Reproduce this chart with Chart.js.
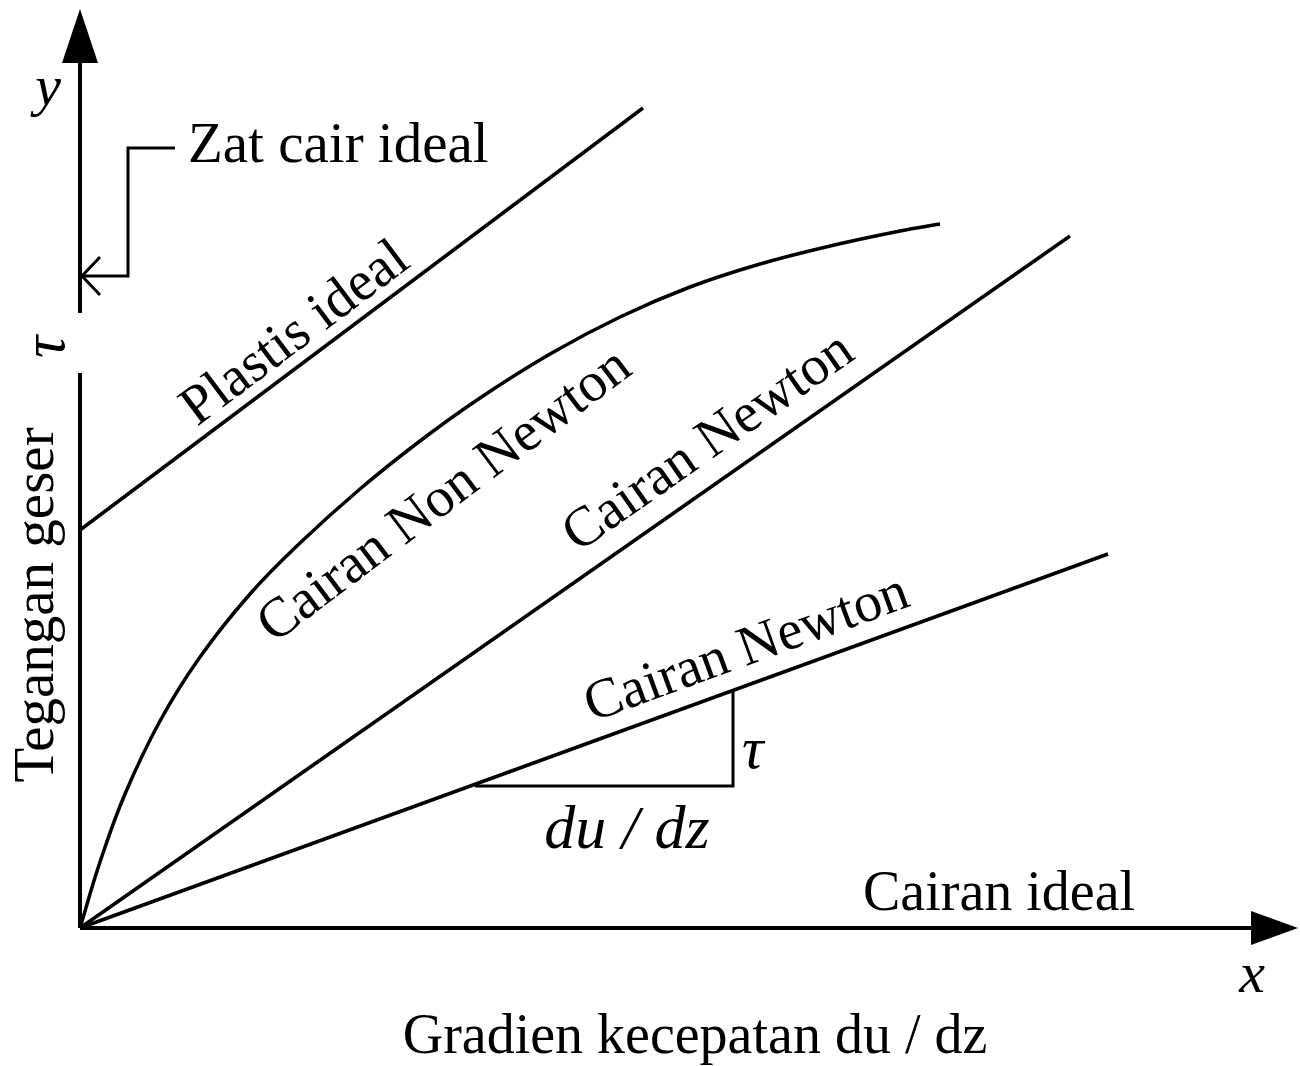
<!DOCTYPE html>
<html>
<head>
<meta charset="utf-8">
<script src="https://cdn.jsdelivr.net/npm/chart.js@4.4.1/dist/chart.umd.min.js"></script>
<style>
  html, body { margin: 0; padding: 0; background: #fff; }
  canvas { display: block; }
</style>
</head>
<body>
<canvas id="chart" width="1300" height="1066"></canvas>
<script>
// diagram units: x = gradien kecepatan du/dz, y = tegangan geser tau (origin at 0,0)
const nonNewtonX = [0, 20, 45, 80, 120, 170, 220, 280, 340, 400, 470, 540, 610, 680, 750, 820, 860];
const nonNewtonY = [0, 66, 134, 207, 271, 334, 385, 439, 487, 530, 574, 611, 641, 664, 682, 697, 704];
const plastisX = [0, 563];
const plastisY = [398, 820];
const newtonSteepX = [0, 990];
const newtonSteepY = [0, 692];
const newtonFlatX = [0, 1028];
const newtonFlatY = [0, 374];
const slopeX = [395, 653, 653];
const slopeY = [142, 142, 238];
const idealPointerX = [95, 48, 48, 2];
const idealPointerY = [780, 780, 652, 652];
const xAxisEnd = 1172;
const yAxisEnd = 866;
const yAxisGap = [555, 615];

const FONT = "'Liberation Serif', 'Times New Roman', serif";

// text labels: [text, x, y, angle (deg, ccw), size, italic, align]
const labels = [
  ['y', -32, 823, 0, 58, true, 'center'],
  ['x', 1172, -64, 0, 58, true, 'center'],
  ['\u03c4', -16, 581, 90, 62, true, 'center'],
  ['Tegangan geser', -27, 323, 90, 57, false, 'center'],
  ['Zat cair ideal', 108, 766, 0, 57, false, 'left'],
  ['Plastis ideal', 117, 501, 36.9, 56, false, 'left'],
  ['Cairan Non Newton', 194, 284, 37, 56, false, 'left'],
  ['Cairan Newton', 498, 375, 35, 56, false, 'left'],
  ['Cairan Newton', 512, 206, 20, 56, false, 'left'],
  ['\u03c4', 662, 160, 0, 60, true, 'left'],
  ['du / dz', 547, 80, 0, 62, true, 'center'],
  ['Cairan ideal', 783, 18, 0, 56, false, 'left'],
  ['Gradien kecepatan du / dz', 615, -125, 0, 56, false, 'center']
];

const pts = (xs, ys) => xs.map((v, i) => ({ x: v, y: ys[i] }));

function lineSet(data, width, extra) {
  return Object.assign({
    data,
    borderColor: '#000',
    borderWidth: width,
    pointRadius: 0,
    fill: false,
    tension: 0,
    spanGaps: false
  }, extra || {});
}

const diagram = {
  id: 'diagram',
  afterDatasetsDraw(chart) {
    const { ctx, scales: { x, y } } = chart;
    ctx.save();
    ctx.fillStyle = '#000';
    ctx.strokeStyle = '#000';

    // filled arrowheads on both axes
    const ax = x.getPixelForValue(xAxisEnd), ay = y.getPixelForValue(0);
    ctx.beginPath();
    ctx.moveTo(ax - 1, ay - 17);
    ctx.lineTo(ax + 46, ay);
    ctx.lineTo(ax - 1, ay + 17);
    ctx.closePath();
    ctx.fill();

    const bx = x.getPixelForValue(0), by = y.getPixelForValue(yAxisEnd);
    ctx.beginPath();
    ctx.moveTo(bx - 18, by + 1);
    ctx.lineTo(bx, by - 53);
    ctx.lineTo(bx + 18, by + 1);
    ctx.closePath();
    ctx.fill();

    // open arrowhead on the "Zat cair ideal" pointer
    const n = idealPointerX.length - 1;
    const px = x.getPixelForValue(idealPointerX[n]), py = y.getPixelForValue(idealPointerY[n]);
    ctx.lineWidth = 3;
    ctx.beginPath();
    ctx.moveTo(px + 18, py - 19);
    ctx.lineTo(px, py);
    ctx.lineTo(px + 18, py + 19);
    ctx.stroke();

    // labels
    ctx.textBaseline = 'alphabetic';
    labels.forEach(([text, lx, ly, ang, size, italic, align]) => {
      ctx.save();
      ctx.translate(x.getPixelForValue(lx), y.getPixelForValue(ly));
      ctx.rotate(-ang * Math.PI / 180);
      ctx.font = (italic ? 'italic ' : '') + size + 'px ' + FONT;
      ctx.textAlign = align;
      ctx.fillText(text, 0, 0);
      ctx.restore();
    });
    ctx.restore();
  }
};

new Chart(document.getElementById('chart'), {
  type: 'line',
  data: {
    datasets: [
      lineSet([{ x: 0, y: 0 }, { x: xAxisEnd, y: 0 }], 4),
      lineSet([{ x: 0, y: 0 }, { x: 0, y: yAxisGap[0] }, { x: 0, y: null }, { x: 0, y: yAxisGap[1] }, { x: 0, y: yAxisEnd }], 4),
      lineSet(pts(plastisX, plastisY), 3.5),
      lineSet(pts(nonNewtonX, nonNewtonY), 3.5, { tension: 0.4 }),
      lineSet(pts(newtonSteepX, newtonSteepY), 3.5),
      lineSet(pts(newtonFlatX, newtonFlatY), 3.5),
      lineSet(pts(slopeX, slopeY), 3),
      lineSet(pts(idealPointerX, idealPointerY), 3)
    ]
  },
  options: {
    responsive: false,
    animation: false,
    events: [],
    devicePixelRatio: 1,
    layout: { padding: 0 },
    plugins: { legend: { display: false }, tooltip: { enabled: false } },
    scales: {
      x: { type: 'linear', min: -80, max: 1220, display: false },
      y: { type: 'linear', min: -138, max: 928, display: false }
    }
  },
  plugins: [diagram]
});
</script>
</body>
</html>
